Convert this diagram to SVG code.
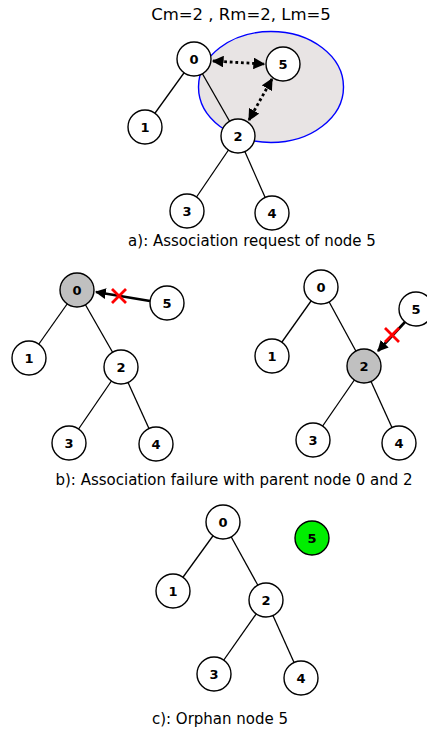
<svg xmlns="http://www.w3.org/2000/svg" width="427" height="733" viewBox="0 0 427 733">
<style>
.n{fill:#fff;stroke:#000;stroke-width:1.4}
.g{fill:#c0c0c0}
.gr{fill:#00ee00}
.l{font-family:"DejaVu Sans",sans-serif;font-weight:bold;font-size:13px;text-anchor:middle;dominant-baseline:central}
.c{font-family:"DejaVu Sans",sans-serif;font-size:15px;text-anchor:middle}
.e{stroke:#000;stroke-width:1.3;fill:none}
.d{stroke:#000;stroke-width:2.8;stroke-dasharray:2.8 2.8;fill:none}
.a{stroke:#000;stroke-width:2.6;fill:none}
.x{stroke:#ff0000;stroke-width:2.8}
</style>
<defs>
<marker id="ah" viewBox="0 0 10 10" refX="9" refY="5" markerWidth="4.2" markerHeight="4.2" orient="auto-start-reverse" markerUnits="strokeWidth">
<path d="M0,0 L10,5 L0,10 z" fill="#000"/>
</marker>
</defs>
<text class="c" x="241" y="20" style="font-size:16.5px">Cm=2 , Rm=2, Lm=5</text>
<ellipse cx="271" cy="87" rx="72.5" ry="55.5" fill="#e8e4e4" stroke="#0000ff" stroke-width="1.4"/>
<g id="connectors">
<line class="e" x1="194" y1="59" x2="145" y2="127"/>
<line class="e" x1="194" y1="59" x2="238" y2="136"/>
<line class="e" x1="238" y1="136" x2="187" y2="211"/>
<line class="e" x1="238" y1="136" x2="272" y2="213"/>
<line class="d" x1="213" y1="61" x2="264" y2="64" marker-start="url(#ah)" marker-end="url(#ah)"/>
<line class="d" x1="272" y1="79" x2="249" y2="120" marker-start="url(#ah)" marker-end="url(#ah)"/>
<line class="e" x1="77" y1="290" x2="29" y2="358"/>
<line class="e" x1="77" y1="290" x2="121" y2="367"/>
<line class="e" x1="121" y1="367" x2="69" y2="443"/>
<line class="e" x1="121" y1="367" x2="156" y2="444"/>
<line class="a" x1="150" y1="301" x2="96" y2="292" marker-end="url(#ah)"/>
<line class="e" x1="321" y1="287" x2="272" y2="356"/>
<line class="e" x1="321" y1="287" x2="364" y2="366"/>
<line class="e" x1="364" y1="366" x2="313" y2="440"/>
<line class="e" x1="364" y1="366" x2="399" y2="443"/>
<line class="a" x1="405" y1="322" x2="378" y2="351" marker-end="url(#ah)"/>
<line class="e" x1="223" y1="522" x2="173" y2="591"/>
<line class="e" x1="223" y1="522" x2="266" y2="600"/>
<line class="e" x1="266" y1="600" x2="214" y2="674"/>
<line class="e" x1="266" y1="600" x2="301" y2="678"/>
</g>
<g id="cross-b1"><path class="x" d="M112,289 L126,303 M126,289 L112,303"/></g>
<g id="cross-b2"><path class="x" d="M385,328 L399,342 M399,328 L385,342"/></g>
<g id="a0"><circle class="n" cx="194" cy="59" r="17"/><text class="l" x="194" y="59">0</text></g>
<g id="a5"><circle class="n" cx="283" cy="64" r="17"/><text class="l" x="283" y="64">5</text></g>
<g id="a1"><circle class="n" cx="145" cy="127" r="17"/><text class="l" x="145" y="127">1</text></g>
<g id="a2"><circle class="n" cx="238" cy="136" r="17"/><text class="l" x="238" y="136">2</text></g>
<g id="a3"><circle class="n" cx="187" cy="211" r="17"/><text class="l" x="187" y="211">3</text></g>
<g id="a4"><circle class="n" cx="272" cy="213" r="17"/><text class="l" x="272" y="213">4</text></g>
<text class="c" x="252" y="246">a): Association request of node 5</text>
<g id="b0"><circle class="n g" cx="77" cy="290" r="17"/><text class="l" x="77" y="290">0</text></g>
<g id="b5"><circle class="n" cx="167" cy="303" r="17"/><text class="l" x="167" y="303">5</text></g>
<g id="b1"><circle class="n" cx="29" cy="358" r="17"/><text class="l" x="29" y="358">1</text></g>
<g id="b2"><circle class="n" cx="121" cy="367" r="17"/><text class="l" x="121" y="367">2</text></g>
<g id="b3"><circle class="n" cx="69" cy="443" r="17"/><text class="l" x="69" y="443">3</text></g>
<g id="b4"><circle class="n" cx="156" cy="444" r="17"/><text class="l" x="156" y="444">4</text></g>
<g id="r0"><circle class="n" cx="321" cy="287" r="17"/><text class="l" x="321" y="287">0</text></g>
<g id="r5"><circle class="n" cx="416" cy="309" r="17"/><text class="l" x="416" y="309">5</text></g>
<g id="r1"><circle class="n" cx="272" cy="356" r="17"/><text class="l" x="272" y="356">1</text></g>
<g id="r2"><circle class="n g" cx="364" cy="366" r="17"/><text class="l" x="364" y="366">2</text></g>
<g id="r3"><circle class="n" cx="313" cy="440" r="17"/><text class="l" x="313" y="440">3</text></g>
<g id="r4"><circle class="n" cx="399" cy="443" r="17"/><text class="l" x="399" y="443">4</text></g>
<text class="c" x="234" y="485">b): Association failure with parent node 0 and 2</text>
<g id="c0"><circle class="n" cx="223" cy="522" r="17"/><text class="l" x="223" y="522">0</text></g>
<g id="c5"><circle class="n gr" cx="312" cy="538" r="17"/><text class="l" x="312" y="538">5</text></g>
<g id="c1"><circle class="n" cx="173" cy="591" r="17"/><text class="l" x="173" y="591">1</text></g>
<g id="c2"><circle class="n" cx="266" cy="600" r="17"/><text class="l" x="266" y="600">2</text></g>
<g id="c3"><circle class="n" cx="214" cy="674" r="17"/><text class="l" x="214" y="674">3</text></g>
<g id="c4"><circle class="n" cx="301" cy="678" r="17"/><text class="l" x="301" y="678">4</text></g>
<text class="c" x="220" y="724">c): Orphan node 5</text>
</svg>
